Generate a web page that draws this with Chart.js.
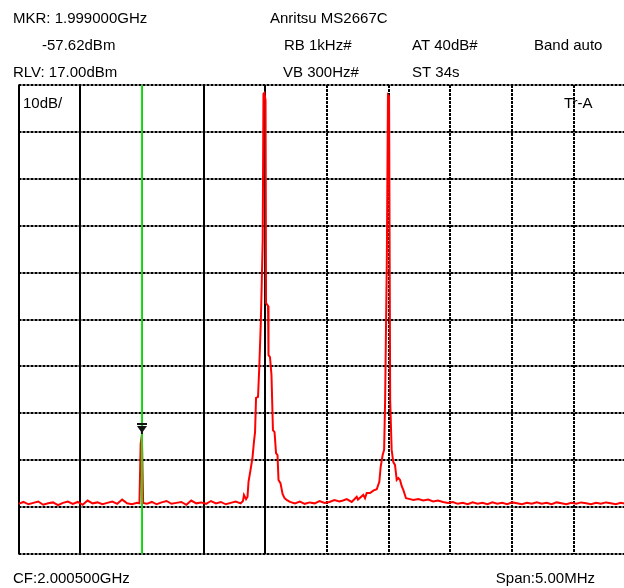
<!DOCTYPE html>
<html>
<head>
<meta charset="utf-8">
<script src="https://cdn.jsdelivr.net/npm/chart.js@4"></script>
<style>
  html, body { margin: 0; padding: 0; background: #fff; overflow: hidden; }
  #wrap { position: absolute; left: 0; top: 0; width: 660px; height: 588px; }
</style>
</head>
<body>
<div id="wrap"><canvas id="spectrum" width="660" height="588"></canvas></div>
<script>
// analyzer settings
const centerMHz = 2000.5;
const spanMHz = 5;
const refLevel = 17;     // dBm, top of screen
const dbPerDiv = 10;
const divisions = 10;
const markerMHz = 1999.0;
const markerDbm = -57.62;

// header / footer texts
const headerTexts = [
    ['MKR: 1.999000GHz', 13, 23],
    ['Anritsu MS2667C', 270, 23],
    ['-57.62dBm', 42, 50],
    ['RB 1kHz#', 284, 50],
    ['AT 40dB#', 412, 50],
    ['Band auto', 534, 50],
    ['RLV: 17.00dBm', 13, 77],
    ['VB 300Hz#', 283, 77],
    ['ST 34s', 412, 77],
    ['10dB/', 23, 108],
    ['Tr-A', 564, 108],
    ['CF:2.000500GHz', 13, 583]
];
const spanText = 'Span:5.00MHz';

// trace: offset from start frequency (kHz) and level (dBm)
const offsetKHz = [
    0, 40, 80, 120, 160, 200, 240, 280, 320, 360, 400, 440, 480, 520, 560, 600,
    640, 680, 720, 760, 800, 840, 880, 920, 960, 980, 990, 1000, 1010, 1040, 1080,
    1120, 1160, 1200, 1240, 1280, 1320, 1360, 1400, 1440, 1480, 1520, 1560, 1600,
    1640, 1680, 1720, 1760, 1800, 1819, 1827, 1844, 1856, 1864, 1880, 1896, 1908,
    1917, 1925, 1941, 1951, 1963, 1971, 1979, 1985, 1992, 2002, 2006, 2022, 2026,
    2038, 2050, 2062, 2075, 2087, 2099, 2107, 2123, 2140, 2156, 2176, 2200, 2240,
    2280, 2320, 2360, 2400, 2440, 2480, 2520, 2560, 2600, 2630, 2660, 2700, 2741,
    2751, 2794, 2808, 2822, 2849, 2875, 2903, 2924, 2935, 2951, 2963, 2971, 2985,
    2994, 3003, 3012, 3024, 3037, 3051, 3065, 3078, 3092, 3105, 3119, 3140, 3173,
    3200, 3240, 3280, 3320, 3360, 3400, 3440, 3480, 3520, 3560, 3600, 3640, 3680,
    3720, 3760, 3800, 3840, 3880, 3920, 3960, 4000, 4040, 4080, 4120, 4160, 4200,
    4240, 4280, 4320, 4360, 4400, 4440, 4480, 4520, 4560, 4600, 4640, 4680, 4720,
    4760, 4800, 4840, 4880, 4920, 4960, 5000
];
const levelDbm = [
    -72.3, -71.9, -72.4, -72.1, -71.8, -72.5, -72.2, -72.0, -72.6, -72.1, -71.8, -72.3, -71.9, -72.5, -71.6, -72.2,
    -72.0, -72.4, -72.1, -71.8, -72.3, -71.4, -72.2, -72.4, -72.1, -72.2, -59.5, -57.62, -72.1, -72.3, -71.9,
    -72.4, -72.0, -71.7, -72.3, -72.1, -71.9, -72.5, -71.6, -72.2, -72.0, -72.3, -71.7, -72.2,
    -71.9, -72.4, -72.1, -71.8, -72.2, -71.7, -70.4, -71.3, -70.8, -67.6, -65.1, -62.5, -59.1,
    -57.0, -49.7, -49.5, -43.3, -34.2, -25.6, -16.0, 15.1, 15.3, 13.8, -29.5, -30.1, -40.6,
    -41.0, -44.8, -56.6, -57.0, -61.5, -61.9, -67.2, -67.9, -70.2, -71.1, -71.5, -71.9, -72.2,
    -71.8, -72.3, -72.0, -72.2, -71.7, -72.1, -71.9, -71.5, -71.8, -71.6, -71.3, -71.9, -70.8,
    -71.4, -70.4, -71.1, -70.0, -70.0, -69.5, -69.2, -67.6, -64.4, -61.9, -60.8, -50.2, -20.0,
    14.9, 14.6, -50.2, -60.8, -63.4, -64.0, -67.2, -66.8, -67.2, -68.5, -69.4, -71.1, -71.3,
    -71.5, -71.3, -71.6, -71.4, -71.8, -71.6, -71.9, -72.1, -71.9, -72.3, -72.1, -72.4, -72.0,
    -72.3, -72.1, -72.4, -72.0, -72.3, -72.1, -72.4, -72.0, -72.2, -72.4, -72.1, -72.3, -72.0,
    -72.3, -72.1, -72.4, -72.0, -72.2, -72.4, -72.1, -72.3, -72.0, -72.2, -72.4, -72.1, -72.3,
    -72.0, -72.2, -72.4, -72.1, -72.3, -72.1, -72.2
];

const startMHz = centerMHz - spanMHz / 2;
const stopMHz = centerMHz + spanMHz / 2;
const bottomLevel = refLevel - dbPerDiv * divisions;

const tracePoints = offsetKHz.map((k, i) => ({ x: startMHz + k / 1000, y: levelDbm[i] }));

// marker glyph: bar with a small downward triangle, sitting above the point
const markerGlyph = document.createElement('canvas');
markerGlyph.width = 10;
markerGlyph.height = 24;
(function () {
    const g = markerGlyph.getContext('2d');
    g.fillStyle = '#111';
    g.fillRect(0, 0, 10, 2);
    g.beginPath();
    g.moveTo(0, 3);
    g.lineTo(10, 3);
    g.lineTo(5, 10);
    g.closePath();
    g.fill();
    g.fillRect(4, 3, 2, 8);
})();

// screen graticule: left half of the verticals solid, rest dashed
const graticule = {
    id: 'graticule',
    beforeDatasetsDraw(chart) {
        const { ctx, chartArea, scales } = chart;
        ctx.save();
        ctx.strokeStyle = '#000';
        ctx.lineWidth = 2;
        scales.y.ticks.forEach(t => {
            const y = Math.round(scales.y.getPixelForValue(t.value));
            ctx.setLineDash([3, 1]);
            ctx.beginPath();
            ctx.moveTo(chartArea.left, y);
            ctx.lineTo(chartArea.right, y);
            ctx.stroke();
        });
        scales.x.ticks.forEach(t => {
            const x = Math.round(scales.x.getPixelForValue(t.value));
            ctx.setLineDash(t.value <= 2000.01 ? [] : [3, 1]);
            ctx.beginPath();
            ctx.moveTo(x, chartArea.top);
            ctx.lineTo(x, chartArea.bottom);
            ctx.stroke();
        });
        ctx.restore();
    },
    afterDraw(chart) {
        const ctx = chart.ctx;
        ctx.save();
        ctx.fillStyle = '#000';
        ctx.font = '15px "Liberation Sans", Arial, sans-serif';
        ctx.textBaseline = 'alphabetic';
        ctx.textAlign = 'left';
        headerTexts.forEach(([txt, x, y]) => ctx.fillText(txt, x, y));
        ctx.textAlign = 'right';
        ctx.fillText(spanText, 595, 583);
        ctx.restore();
    }
};

const ctx = document.getElementById('spectrum').getContext('2d');

const spectrumChart = new Chart(ctx, {
    type: 'line',
    data: {
        datasets: [
            {
                label: 'Trace A',
                data: tracePoints,
                borderColor: '#ff0000',
                borderWidth: 2,
                pointRadius: 0,
                tension: 0,
                order: 2
            },
            {
                label: 'Marker line',
                data: [{ x: markerMHz, y: bottomLevel }, { x: markerMHz, y: refLevel }],
                borderColor: '#1ee01e',
                borderWidth: 2,
                pointRadius: 0,
                order: 1
            },
            {
                label: 'Marker',
                data: [{ x: markerMHz, y: markerDbm }],
                showLine: false,
                pointStyle: markerGlyph,
                pointRadius: 5,
                order: 0
            }
        ]
    },
    options: {
        responsive: false,
        animation: false,
        devicePixelRatio: 1,
        layout: {
            padding: { left: 18.5, right: 24.5, top: 85, bottom: 34 }
        },
        scales: {
            x: {
                type: 'linear',
                display: false,
                min: startMHz,
                max: stopMHz,
                ticks: { stepSize: spanMHz / divisions }
            },
            y: {
                display: false,
                min: bottomLevel,
                max: refLevel,
                ticks: { stepSize: dbPerDiv }
            }
        },
        plugins: {
            legend: { display: false },
            tooltip: { enabled: false }
        }
    },
    plugins: [graticule]
});
</script>
</body>
</html>
